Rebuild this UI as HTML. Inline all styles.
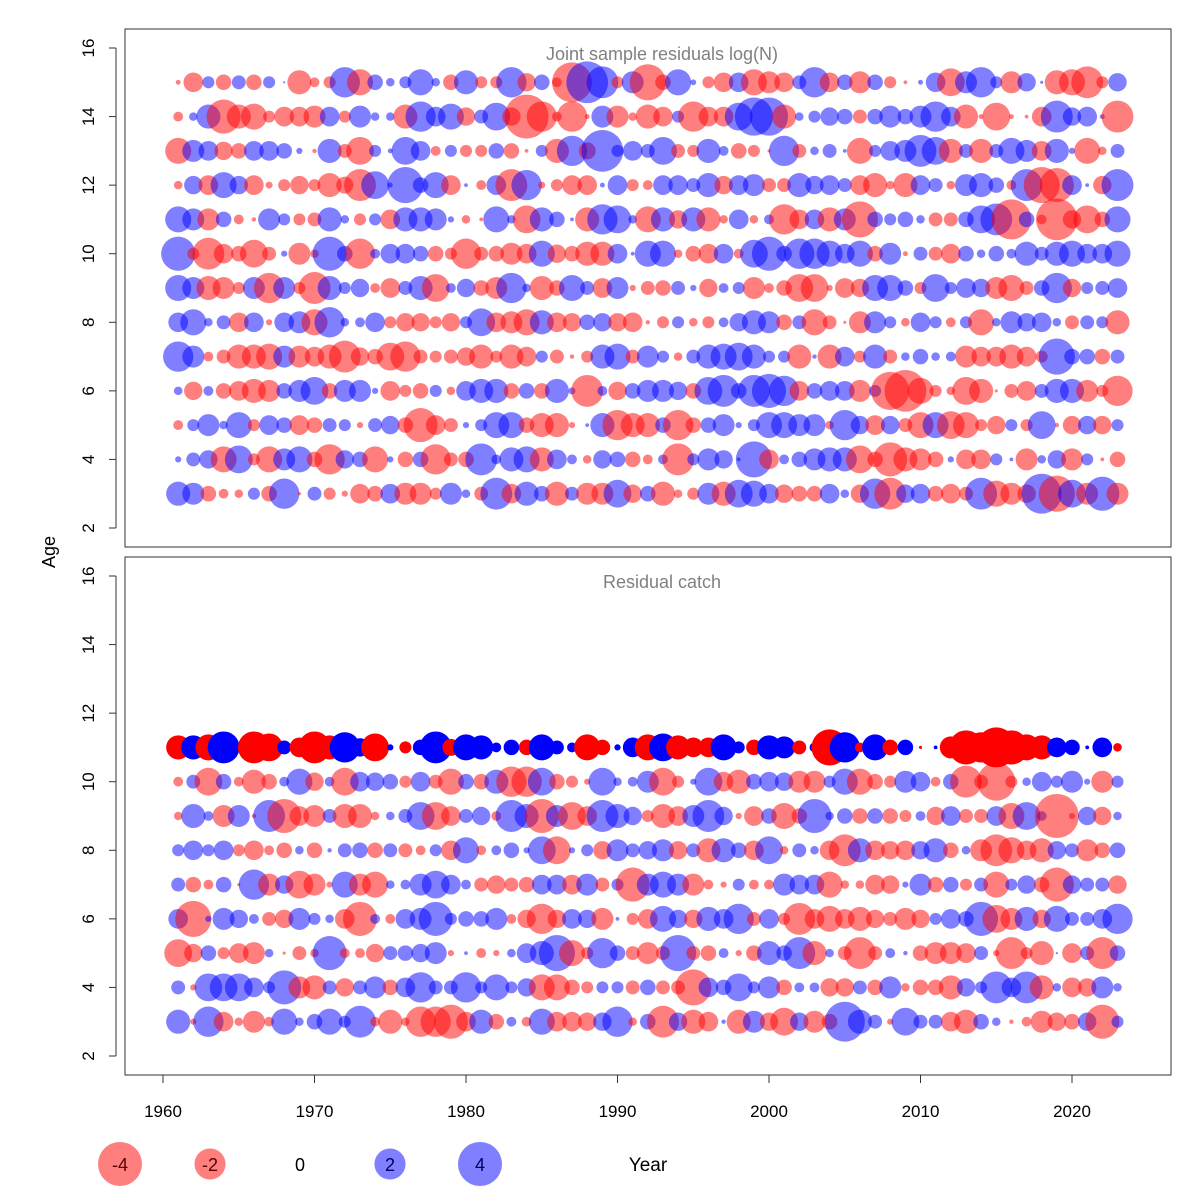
<!DOCTYPE html>
<html><head><meta charset="utf-8">
<style>
html,body{margin:0;padding:0;background:#fff;}
svg{display:block;font-family:"Liberation Sans",Arial,sans-serif;}
</style></head>
<body>
<svg id="chart" width="1200" height="1200" viewBox="0 0 1200 1200" xmlns="http://www.w3.org/2000/svg">
  <rect x="0" y="0" width="1200" height="1200" fill="#fff"/>
  <g id="top-bubbles"></g>
  <g id="bot-bubbles"></g>
  <rect x="125" y="29" width="1046" height="518" fill="none" stroke="#333" stroke-width="1"/>
  <rect x="125" y="557" width="1046" height="518" fill="none" stroke="#333" stroke-width="1"/>
  <text x="662" y="60" font-size="18" fill="#808080" text-anchor="middle">Joint sample residuals log(N)</text>
  <text x="662" y="588" font-size="18" fill="#808080" text-anchor="middle">Residual catch</text>
  <g id="axes"></g>
  <text x="0" y="0" font-size="18" text-anchor="middle" transform="translate(55,552) rotate(-90)">Age</text>
  <g id="legend"></g>
  <text x="648" y="1171" font-size="19" text-anchor="middle">Year</text>
</svg>
<script>
const years = [];
for (let y = 1961; y <= 2023; y++) years.push(y);
const topAges = [15,14,13,12,11,10,9,8,7,6,5,4,3];
const botAges = [11,10,9,8,7,6,5,4,3];
const yTicks = [2,4,6,8,10,12,14,16];
const xTicks = [1960,1970,1980,1990,2000,2010,2020];
const legendValues = [-4,-2,0,2,4];

const a15 = [-0.05,-0.8,0.3,-0.5,0.4,-0.5,0.3,0.01,-1.2,-0.2,-0.3,1.9,-1.4,0.5,0.15,0.3,1.4,0.15,-0.5,1.2,-0.3,-0.3,1.9,-0.7,0.5,-0.2,-3.3,3.6,2.1,-0.3,1.0,-2.7,-0.5,1.4,0.07,-0.3,-0.8,0.8,-1.4,-1.0,-0.8,0.4,1.9,-0.8,0.5,-1.0,0.5,-0.3,-0.03,0.05,0.8,-1.6,1.0,1.9,0.3,-1.0,0.7,0.02,-1.2,-1.4,-2.1,-0.3,0.7];
const a14 = [-0.2,0.15,1.2,-2.4,-1.2,-1.4,-0.3,-0.8,-0.8,-1.0,0.8,-0.3,1.0,0.15,0.15,-1.2,1.9,0.8,1.4,-0.7,0.4,1.6,-0.7,-4,-1.9,-0.2,-1.9,-0.05,1.0,-1.0,-0.15,-1.2,-0.8,0.3,-1.9,-0.8,-0.8,1.6,3.0,3.0,-1.2,0.15,0.3,0.7,0.5,-0.4,0.5,1.0,0.5,1.0,1.9,0.8,-1.2,-0.05,-1.6,-0.05,-0.03,-0.8,2.1,0.7,0.8,0.05,-2.1];
const a13 = [-1.4,1.0,0.8,-0.7,-0.5,0.8,0.8,0.5,0.08,-0.04,1.2,-0.4,-1.6,0.3,0.05,1.6,0.8,-0.2,0.3,-0.3,-0.3,0.5,-0.5,-0.03,0.3,-1.2,1.9,-0.6,3.6,0.3,0.8,0.4,1.6,-0.4,-0.3,1.2,0.2,-0.5,-0.3,-0.02,1.9,-0.4,0.15,0.4,0.03,-1.4,0.3,0.8,1.0,2.1,1.6,-1.2,0.4,-1.2,0.4,1.4,1.0,-0.8,1.2,0.08,-1.4,-0.15,0.4];
const a12 = [-0.15,0.7,-0.8,1.4,0.7,-0.8,-0.1,-0.3,-0.7,-0.3,-1.2,-0.6,-2.1,1.6,0.05,2.7,0.5,1.4,-0.8,0.03,-0.2,0.8,-2.1,1.9,-0.1,-0.3,-0.8,-0.8,0.05,0.8,-0.3,-0.2,0.8,0.8,0.4,1.2,-0.7,0.8,1.0,-0.4,-0.4,1.2,0.7,0.8,0.4,-0.8,-1.2,-0.15,-1.2,0.8,0.4,-0.15,1.0,1.2,0.5,-0.2,2.1,-2.7,-2.4,0.8,0.03,-0.7,2.1];
const a11 = [1.4,1.0,-1.0,0.5,-0.2,-0.04,1.0,0.3,-0.3,-0.4,1.2,0.15,-0.3,0.3,-0.8,1.2,1.2,1.0,0.08,-0.15,-0.03,1.4,0.15,-1.6,1.2,0.5,0.03,-1.2,1.9,1.6,0.15,-1.4,1.2,-0.7,1.2,-1.2,-0.15,0.8,-0.15,0.2,-1.9,-0.8,0.8,-1.2,1.0,-2.7,0.5,0.3,0.5,0.15,-0.4,-0.4,0.5,1.6,2.1,-3.3,0.5,-0.2,-3.6,-0.7,-1.6,-0.5,1.4];
const a10 = [2.4,-0.3,-2.1,-0.8,-0.5,-1.6,-0.4,0.08,-1.0,-0.15,2.4,0.5,-1.9,0.2,0.8,0.8,0.5,-0.5,-0.3,-1.9,-0.4,-0.5,-1.0,-0.8,1.4,-0.7,-0.5,-1.2,-1.2,0.8,0.03,1.4,1.4,-0.15,-0.5,-0.8,0.8,-0.2,1.6,2.4,0.5,1.9,1.9,1.4,0.8,1.4,-0.5,1.0,-0.05,0.4,-0.4,-0.8,0.5,0.15,0.5,0.2,1.2,0.4,1.2,1.4,0.8,0.8,1.4];
const a9 = [1.4,1.0,-1.2,-1.0,-0.3,1.0,-1.9,1.0,-0.3,-2.1,1.2,0.3,0.7,-0.2,-0.8,0.4,1.2,-1.6,0.2,0.7,-0.5,-1.0,1.9,0.15,-1.2,-0.5,1.4,0.4,-0.8,1.0,-0.08,-0.4,-0.5,0.4,0.08,-0.7,0.2,0.3,-1.0,-0.2,-0.5,-1.6,-1.6,-0.08,-0.8,-0.7,1.4,1.4,0.5,-0.3,1.6,0.3,0.8,0.7,-1.0,-1.4,-0.4,0.5,1.9,-0.7,0.3,0.4,0.8];
const a8 = [0.8,1.4,0.15,0.4,-0.8,0.8,-0.08,0.8,1.0,-1.4,1.9,0.15,0.2,0.8,-0.3,-0.7,-0.7,-0.3,-0.7,0.3,1.6,-0.8,-1.0,-1.4,1.2,-0.8,-0.7,0.5,0.7,-0.7,-0.8,-0.04,-0.3,0.3,-0.15,-0.3,0.2,0.7,1.2,1.0,-0.5,0.4,-1.4,-0.4,-0.02,-1.0,1.0,0.3,-0.15,0.8,0.3,-0.2,0.3,-1.4,0.15,1.0,0.7,0.8,0.15,-0.4,0.4,0.3,-1.2];
const a7 = [1.9,1.0,-0.2,-0.4,-1.2,-1.2,-1.4,1.0,-1.0,-0.8,-1.2,-2.1,-0.7,-0.5,-1.6,-1.9,-0.4,-0.3,-0.4,-0.7,-1.2,-0.3,-1.2,-0.8,0.3,-0.4,-0.04,-0.3,1.2,1.4,-0.4,1.0,0.3,-0.15,0.4,1.2,1.4,1.6,1.2,0.3,0.3,-1.2,0.04,-1.2,0.8,-0.3,1.2,-0.4,0.15,0.5,0.15,0.2,-1.0,-0.8,-0.8,-1.2,-0.8,-0.3,2.7,0.5,0.5,-0.5,0.4];
const a6 = [0.15,-0.7,0.2,-0.5,-0.8,-1.2,-1.0,0.5,1.0,1.6,-0.5,1.0,1.0,0.08,-0.8,-0.3,-0.5,0.3,-0.15,0.8,1.2,1.2,-0.5,0.5,-0.5,1.2,0.1,-2.1,0.2,-0.7,0.5,1.0,1.0,0.7,-0.5,1.6,2.1,0.5,2.1,2.4,1.9,-0.8,0.5,0.8,0.8,-1.0,0.3,-3.0,-3.6,-1.4,-0.3,-0.15,-1.6,-1.2,-0.02,-0.4,-0.8,0.4,1.2,1.2,-1.0,-0.3,-1.9];
const a5 = [-0.2,0.3,1.0,0.15,1.4,-0.3,0.8,0.5,-0.8,-0.5,0.4,0.3,-0.08,0.4,0.7,-0.5,-2.4,-0.8,-0.4,0.08,0.3,1.4,1.4,-0.5,-1.2,-1.2,-0.08,0.03,1.2,-1.9,-1.2,-1.2,0.5,-1.9,-0.5,0.5,1.0,0.08,0.3,1.4,1.4,1.0,1.0,-0.15,1.9,0.7,-0.8,0.7,-0.4,-1.4,1.4,-1.6,-1.4,-0.3,-0.7,0.3,-0.3,1.6,-0.04,-0.7,0.7,-0.7,0.3];
const a4 = [0.08,0.4,0.7,-1.4,1.6,-0.3,-1.4,1.0,1.4,-0.5,-1.9,0.7,0.5,-1.4,0.08,-0.5,0.5,-1.9,-0.4,-0.5,2.1,0.2,1.2,1.4,-1.2,0.8,0.2,-0.15,0.7,0.5,-0.5,-0.2,0.2,-2.1,0.3,1.0,0.7,0.03,2.7,-0.8,0.2,0.5,1.0,1.2,1.2,-1.6,-0.5,-2.4,-1.2,-1.0,-0.5,0.08,-0.8,-0.8,0.3,0.03,-1.0,0.15,0.7,-1.0,0.3,-0.03,-0.5];
const a3 = [1.2,1.0,-0.5,-0.2,-0.15,0.3,-0.5,1.9,-0.02,0.4,-0.3,-0.08,-0.8,-0.5,0.8,-1.0,-1.0,-0.3,1.0,0.15,-0.4,2.1,-0.8,1.2,0.5,-1.2,0.4,-1.0,-1.0,1.6,-0.7,0.5,-1.2,-0.15,-0.3,1.0,-1.2,1.6,1.4,0.8,-0.7,-0.5,-0.5,0.8,0.15,-0.7,1.9,-2.1,0.7,0.8,-0.5,-0.8,-0.4,2.1,-1.4,-1.0,-0.7,3.3,-2.7,1.6,-1.0,2.4,-1.0];

const c11 = [-1.2,1.2,-1.4,2.1,0.08,-2.1,-1.6,0.4,-0.8,-2.1,-1.2,1.9,0.7,-1.6,0.08,-0.3,0.5,2.1,-0.6,1.4,1.2,0.2,0.5,-0.5,1.4,0.4,0.2,-1.4,-0.5,0.08,0.8,-1.4,1.6,-1.2,-0.8,-0.8,1.4,0.3,-0.5,1.2,1.0,-0.4,0.2,-2.7,1.9,-0.2,1.4,-0.5,0.5,-0.02,0.03,-1.0,-2.4,-1.9,-3.3,-2.4,-1.4,-1.2,0.8,0.5,0.03,0.8,-0.15];
const c10 = [-0.2,0.4,-1.6,0.5,-0.2,-1.2,-0.5,0.2,1.4,-0.7,0.2,-1.6,0.8,0.7,0.5,-0.3,0.8,-0.4,-1.4,0.5,-0.5,1.2,-1.9,-1.9,1.6,-0.5,-0.3,-0.08,1.6,0.15,0.2,1.0,-1.6,-0.3,0.08,1.6,-0.8,-1.2,0.5,0.8,0.7,-1.0,-1.0,0.3,1.4,-1.4,-0.5,-0.3,1.0,0.8,-0.2,0.5,-2.1,-0.4,-3.0,-0.3,0.15,0.8,0.3,1.0,0.08,-1.0,0.3];
const c9 = [-0.15,1.2,0.2,-1.0,1.0,-0.04,2.1,-2.4,-0.8,-1.0,0.4,-1.2,-1.2,-0.15,0.15,0.4,1.6,-1.6,-0.8,0.4,0.7,-0.2,2.1,1.2,-2.4,1.0,-1.6,-0.8,2.1,1.2,0.7,-0.3,-1.2,-0.8,1.0,2.1,0.7,-0.08,-0.8,0.5,-1.4,-0.5,2.4,0.15,0.5,-0.5,0.5,-0.5,-0.3,0.2,-0.7,0.8,-0.4,-0.4,0.8,-1.4,1.6,0.2,-4.0,-0.08,0.7,-0.7,0.15];
const c8 = [0.3,0.8,0.3,0.8,-0.3,-0.8,-0.2,-0.5,0.15,-0.5,0.04,0.4,0.5,-0.5,0.4,-0.4,-0.2,0.3,-0.8,1.4,-0.2,0.2,0.5,0.08,1.6,-1.6,0.08,0.3,-0.7,1.0,0.4,0.7,1.0,-0.7,0.4,-1.2,1.2,0.5,-0.8,1.6,-0.15,0.4,0.15,-0.8,-2.1,1.2,-0.8,-0.7,-0.8,0.7,1.2,-0.5,0.15,-1.0,-2.1,-1.4,-0.8,-1.2,0.7,0.4,-1.0,-0.5,0.5];
const c7 = [0.4,-0.5,-0.2,0.5,-0.02,1.9,-1.0,0.7,-1.6,-1.0,-0.08,1.4,-1.0,-1.4,0.15,0.2,1.0,1.6,0.8,0.2,-0.4,-0.7,-0.4,-0.5,0.8,0.8,-0.8,1.0,-0.4,0.3,-2.4,1.0,1.4,1.0,-1.0,-0.2,-0.08,0.3,-0.2,-0.2,1.0,0.8,0.8,-1.4,-0.15,-0.15,-0.8,-0.7,0.08,1.0,-0.5,0.5,-0.3,0.4,-1.4,0.3,0.7,-0.5,-2.4,0.7,0.4,0.4,-0.7];
const c6 = [0.8,-2.7,0.08,1.0,0.7,0.2,-0.4,-0.7,1.0,0.3,0.15,-0.8,-2.4,0.2,-0.2,0.8,1.0,2.4,0.3,0.5,0.5,1.0,-0.2,-0.7,-1.9,-0.7,0.8,0.7,-1.0,0.03,-0.3,-0.8,1.4,0.7,-0.7,1.2,0.8,1.9,-0.4,0.8,-0.3,-2.1,-0.8,-1.4,-0.8,-1.2,-0.7,-0.4,-1.0,-0.7,0.3,0.8,0.5,2.4,-1.6,-1.0,1.2,-0.7,1.4,0.4,0.4,0.8,1.9];
const c5 = [-1.6,-0.7,0.5,-0.3,-0.8,-1.0,0.15,-0.02,-0.4,-0.15,2.4,-0.2,-0.2,-0.7,0.4,0.5,0.7,1.0,-0.08,0.03,-0.2,-0.08,0.15,0.8,1.2,2.7,-1.4,-0.3,1.9,0.5,-0.4,-1.0,-0.4,2.7,-0.4,-0.5,0.2,-0.08,-0.5,1.2,0.5,2.1,-1.2,0.15,-0.4,-2.1,-0.4,0.2,0.04,-0.5,-1.0,-1.0,-0.8,0.4,-0.08,-2.1,-0.3,-1.2,0.01,-0.8,0.4,-2.1,0.5];
const c4 = [0.4,-0.08,1.6,1.6,1.6,0.8,0.3,2.4,-1.0,-1.2,0.4,-0.7,0.4,1.0,-0.5,0.8,1.9,0.4,0.4,1.9,0.3,1.4,0.3,0.7,-1.4,-1.4,-0.5,-0.3,0.3,0.3,-0.4,0.5,-0.4,-0.4,-2.7,0.8,0.5,1.6,0.3,1.0,-0.5,0.2,0.2,-0.7,-0.7,0.4,-0.5,1.0,-0.15,-0.5,-0.5,-1.2,0.7,0.3,2.1,0.8,2.1,-1.2,0.15,-0.8,-0.7,1.0,0.15];
const c3 = [1.2,-0.08,1.9,-0.8,-0.15,-1.0,-0.2,1.4,0.15,0.5,1.4,0.3,2.1,-0.2,-1.2,-0.15,-1.9,-1.9,-2.4,-0.8,1.2,-0.5,0.2,-0.2,1.4,-0.8,-0.8,-0.7,0.7,1.9,-0.15,0.5,-2.1,0.7,-1.2,-0.8,0.04,-1.2,1.0,-0.7,-1.6,0.7,-1.0,-0.5,3.3,1.2,0.4,-0.08,1.6,0.4,0.4,-0.8,-1.2,0.5,0.15,-0.04,-0.2,-1.0,-0.7,-0.5,0.7,-2.4,0.3];

const topRows = [a15,a14,a13,a12,a11,a10,a9,a8,a7,a6,a5,a4,a3];
const botRows = [c11,c10,c9,c8,c7,c6,c5,c4,c3];

const NS = "http://www.w3.org/2000/svg";
function xScale(yr){ return 163 + (yr - 1960) * 15.15; }
function yTop(age){ return 528 - (age - 2) * 34.286; }
function yBot(age){ return 1056 - (age - 2) * 34.286; }
function rScale(v){ return 11 * Math.sqrt(Math.abs(v)); }
function mk(tag, attrs, parent){
  const el = document.createElementNS(NS, tag);
  for (const k in attrs) el.setAttribute(k, attrs[k]);
  parent.appendChild(el);
  return el;
}

function drawPanel(gId, ages, rows, yFn, opaqueAge){
  const g = document.getElementById(gId);
  ages.forEach((age, i) => {
    const row = rows[i];
    years.forEach((yr, j) => {
      const v = row[j];
      if (v === undefined) return;
      const opaque = age === opaqueAge;
      const col = v < 0 ? (opaque ? "rgb(255,0,0)" : "rgba(255,0,0,0.5)") : (opaque ? "rgb(0,0,255)" : "rgba(0,0,255,0.5)");
      const c = mk("circle", {cx: xScale(yr).toFixed(1), cy: yFn(age).toFixed(1), r: rScale(v).toFixed(2), fill: col}, g);
      
      
    });
  });
}
drawPanel("top-bubbles", topAges, topRows, yTop, null);
drawPanel("bot-bubbles", botAges, botRows, yBot, 11);

const axes = document.getElementById("axes");
[yTop, yBot].forEach((fn, pi) => {
  const line = mk("line", {x1: 116, x2: 116, y1: fn(2), y2: fn(16), stroke: "#333"}, axes);
  
  
  yTicks.forEach(t => {
    const y = fn(t);
    const tk = mk("line", {x1: 109, x2: 116, y1: y, y2: y, stroke: "#333"}, axes);
    
    
    const tx = mk("text", {x: 0, y: 0, "font-size": 17, "text-anchor": "middle", transform: "translate(94," + y + ") rotate(-90)"}, axes);
    tx.textContent = t;
    
    
  });
});
const xl = mk("line", {x1: xScale(1960), x2: xScale(2020), y1: 1075, y2: 1075, stroke: "#333"}, axes);


xTicks.forEach(t => {
  const x = xScale(t);
  const tk = mk("line", {x1: x, x2: x, y1: 1075, y2: 1083, stroke: "#333"}, axes);
  
  
  const tx = mk("text", {x: x, y: 1117, "font-size": 17, "text-anchor": "middle"}, axes);
  tx.textContent = t;
  
  
});

const lg = document.getElementById("legend");
legendValues.forEach((v, i) => {
  const cx = 120 + i * 90, cy = 1164;
  if (v !== 0) {
    const c = mk("circle", {cx: cx, cy: cy, r: rScale(v).toFixed(2), fill: v < 0 ? "rgba(255,0,0,0.5)" : "rgba(0,0,255,0.5)"}, lg);
    
    
  }
  const t = mk("text", {x: cx, y: cy + 7, "font-size": 18, "text-anchor": "middle", fill: v < 0 ? "#5a0000" : (v > 0 ? "#000060" : "#000")}, lg);
  t.textContent = v;
  
  
});
</script>
</body></html>
